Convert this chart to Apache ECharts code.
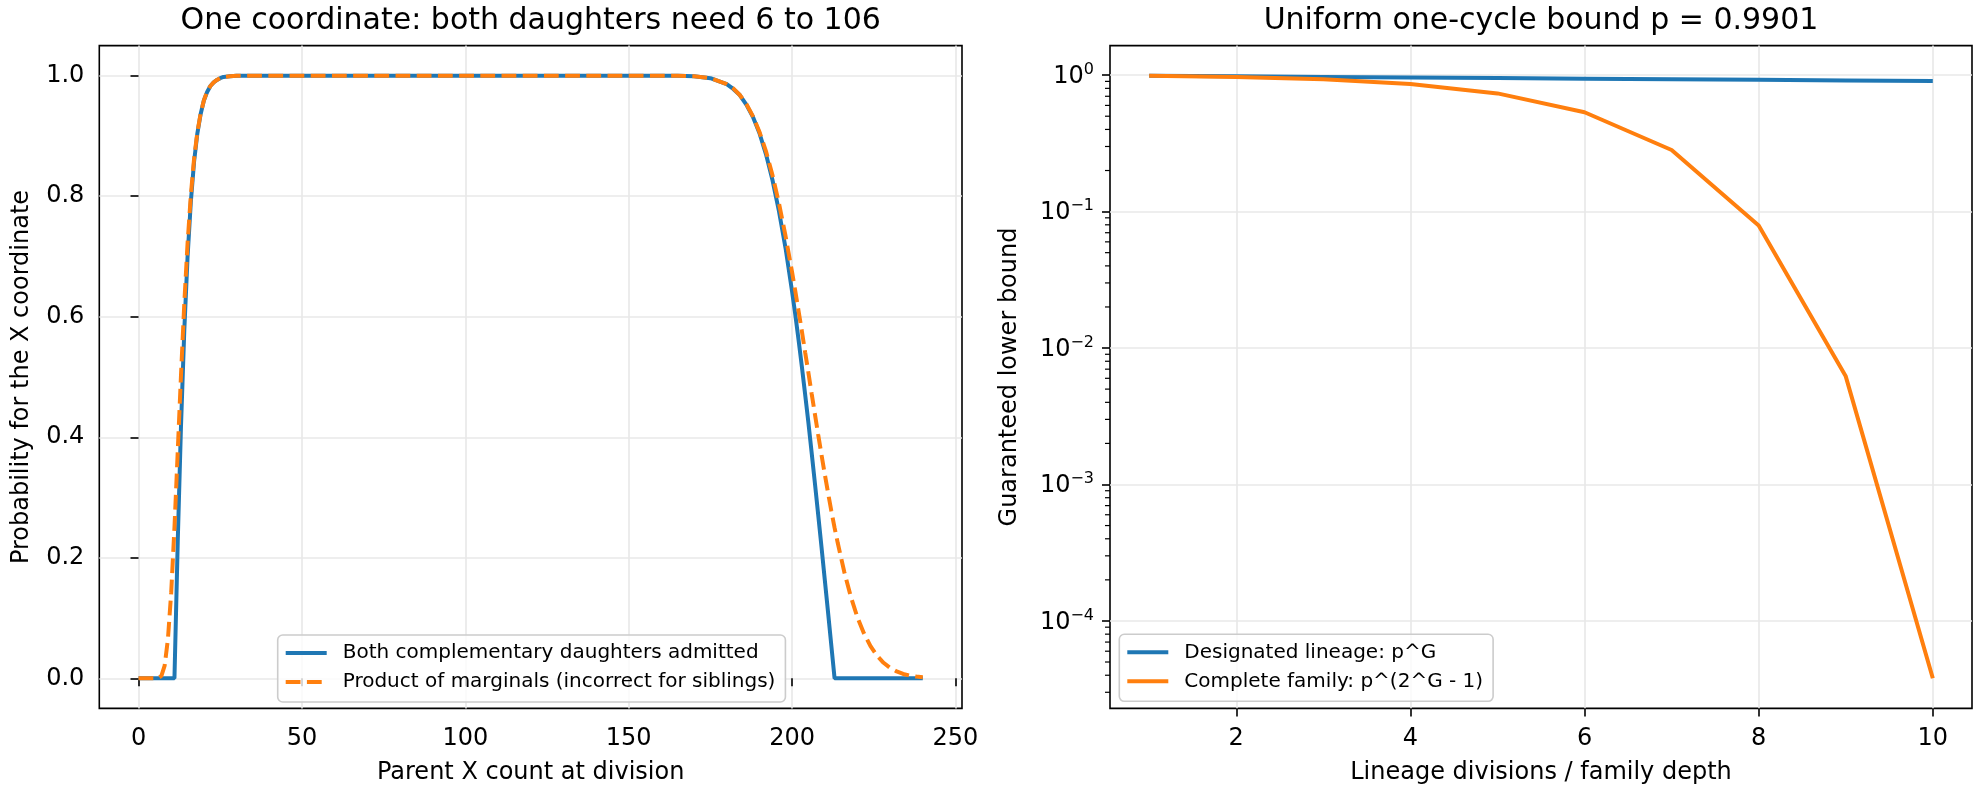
<!DOCTYPE html>
<html>
<head>
<meta charset="utf-8">
<title>Daughter admission and lineage bounds</title>
<script src="https://cdn.jsdelivr.net/npm/echarts@6/dist/echarts.min.js"></script>
<style>
html, body { margin: 0; padding: 0; background: #fff; }
#chart { width: 1980px; height: 792px; }
</style>
</head>
<body>
<div id="chart"></div>
<script>
// left panel: parent X count at division vs probability
var parentCount = [0, 2, 4, 5, 6, 7, 8, 9, 10, 11,
  12, 13, 14, 15, 16, 17, 18, 19, 20, 21, 22, 23, 24, 25, 26, 28, 30, 35, 40,
  60, 80, 100, 120, 140, 160, 165, 170, 175, 180, 182, 184, 186, 188, 190, 192, 194, 196, 198,
  200, 201, 202, 203, 204, 205, 206, 207, 208, 209, 210, 211, 212, 213, 214,
  216, 218, 220, 222, 224, 226, 228, 230, 232, 234, 236, 238, 240];
var bothAdmitted = [0, 0, 0, 0, 0, 0, 0, 0, 0, 0,
  0.226, 0.419, 0.576, 0.698, 0.790, 0.857, 0.904, 0.936, 0.959, 0.973, 0.983, 0.989, 0.993, 0.996, 0.998, 0.999, 1.0, 1.0, 1.0,
  1.0, 1.0, 1.0, 1.0, 1.0, 1.0, 1.0, 0.999, 0.996, 0.986, 0.978, 0.968, 0.952, 0.932, 0.905, 0.870, 0.827, 0.775, 0.714,
  0.642, 0.603, 0.561, 0.517, 0.471, 0.424, 0.374, 0.323, 0.271, 0.218, 0.164, 0.110, 0.055, 0, 0,
  0, 0, 0, 0, 0, 0, 0, 0, 0, 0, 0, 0, 0];
var productOfMarginals = [0, 0, 0, 0, 0.0002, 0.0039, 0.021, 0.065, 0.142, 0.25,
  0.376, 0.503, 0.621, 0.721, 0.801, 0.862, 0.906, 0.937, 0.959, 0.974, 0.983, 0.989, 0.993, 0.996, 0.998, 0.999, 1.0, 1.0, 1.0,
  1.0, 1.0, 1.0, 1.0, 1.0, 1.0, 1.0, 0.999, 0.996, 0.986, 0.979, 0.968, 0.953, 0.933, 0.907, 0.875, 0.835, 0.788, 0.734,
  0.674, 0.642, 0.609, 0.576, 0.541, 0.507, 0.472, 0.438, 0.404, 0.371, 0.339, 0.308, 0.278, 0.25, 0.224,
  0.176, 0.135, 0.101, 0.0745, 0.0534, 0.0375, 0.0257, 0.0172, 0.0113, 0.0072, 0.0045, 0.0028, 0.0017];
var leftXTicks = [0, 50, 100, 150, 200, 250];
var leftYTicks = [0, 0.2, 0.4, 0.6, 0.8, 1.0];

// right panel: lower bounds per generation
var generations = [1, 2, 3, 4, 5, 6, 7, 8, 9, 10];
var designatedLineage = [0.9901, 0.9803, 0.9706, 0.9610, 0.9515, 0.9421, 0.9327, 0.9235, 0.9143, 0.9053];
var completeFamily = [0.9901, 0.9706, 0.9327, 0.8614, 0.7346, 0.5343, 0.2826, 0.0791, 0.0062, 0.000038];
var rightXTicks = [2, 4, 6, 8, 10];
var rightYTicks = [1, 0.1, 0.01, 0.001, 0.0001];
var minorMultipliers = [2, 3, 4, 5, 6, 7, 8, 9];

var BLUE = '#1f77b4';
var ORANGE = '#ff7f0e';
var FONT = 'DejaVu Sans';
var GRIDLINE = '#e8e8e8';

function pairs(xs, ys) {
  var out = [];
  for (var i = 0; i < xs.length; i++) out.push([xs[i], ys[i]]);
  return out;
}
function padRange(lo, hi) {
  var m = (hi - lo) * 0.05;
  return [lo - m, hi + m];
}
function logPadRange(lo, hi) {
  var r = padRange(Math.log10(lo), Math.log10(hi));
  return [Math.pow(10, r[0]), Math.pow(10, r[1])];
}

var leftX = padRange(0, 240);
var leftY = padRange(0, 1);
var rightX = padRange(1, 10);
var rightY = logPadRange(Math.min.apply(null, completeFamily), Math.max.apply(null, designatedLineage));

// minor ticks of the log axis, 2..9 times each decade
var minorTicks = [];
for (var d = -5; d <= 0; d++) {
  for (var j = 0; j < minorMultipliers.length; j++) {
    var v = minorMultipliers[j] * Math.pow(10, d);
    if (v > rightY[0] && v < rightY[1]) minorTicks.push([rightX[0], v]);
  }
}

var tickStyle = { color: '#000', width: 1.6 };
var labelStyle = { fontSize: 24, color: '#000', fontFamily: FONT };
var nameStyle = { fontSize: 24, color: '#000', fontFamily: FONT };

var legendBase = {
  orient: 'vertical',
  itemWidth: 41,
  itemHeight: 14,
  itemGap: 9,
  padding: [8, 10, 10, 6],
  backgroundColor: 'rgba(255,255,255,0.8)',
  borderColor: '#cccccc',
  borderWidth: 1.6,
  borderRadius: 5,
  selectedMode: false,
  itemStyle: { opacity: 0 },
  lineStyle: { width: 4 },
  textStyle: { fontSize: 20, color: '#000', fontFamily: FONT, padding: [0, 0, 0, 11] }
};

var chart = echarts.init(document.getElementById('chart'));
var option = {
  animation: false,
  backgroundColor: '#fff',
  title: [
    { text: 'One coordinate: both daughters need 6 to 106', left: 530.7, top: 6, textAlign: 'center', padding: 0,
      textStyle: { fontSize: 30, fontWeight: 'normal', color: '#000', fontFamily: FONT } },
    { text: 'Uniform one-cycle bound p = 0.9901', left: 1541, top: 6, textAlign: 'center', padding: 0,
      textStyle: { fontSize: 30, fontWeight: 'normal', color: '#000', fontFamily: FONT } }
  ],
  grid: [
    { left: 99.3, top: 45.6, width: 862.7, height: 662.8, show: true, borderColor: '#000', borderWidth: 1.6, containLabel: false },
    { left: 1110, top: 45.6, width: 862, height: 662.8, show: true, borderColor: '#000', borderWidth: 1.6, containLabel: false }
  ],
  legend: [
    Object.assign({}, legendBase, { left: 277.7, top: 635,
      data: ['Both complementary daughters admitted', 'Product of marginals (incorrect for siblings)'] }),
    Object.assign({}, legendBase, { left: 1119.3, top: 634.3,
      data: ['Designated lineage: p^G', 'Complete family: p^(2^G - 1)'] })
  ],
  xAxis: [
    { type: 'value', gridIndex: 0, min: leftX[0], max: leftX[1],
      axisLine: { show: false },
      axisTick: { customValues: leftXTicks, length: 8, lineStyle: tickStyle },
      axisLabel: Object.assign({ customValues: leftXTicks, margin: 18 }, labelStyle),
      splitLine: { show: true, lineStyle: { color: GRIDLINE, width: 1.6 } },
      name: 'Parent X count at division', nameLocation: 'middle', nameGap: 52, nameTextStyle: nameStyle },
    { type: 'value', gridIndex: 1, min: rightX[0], max: rightX[1],
      axisLine: { show: false },
      axisTick: { customValues: rightXTicks, length: 8, lineStyle: tickStyle },
      axisLabel: Object.assign({ customValues: rightXTicks, margin: 18 }, labelStyle),
      splitLine: { show: true, lineStyle: { color: GRIDLINE, width: 1.6 } },
      name: 'Lineage divisions / family depth', nameLocation: 'middle', nameGap: 52, nameTextStyle: nameStyle }
  ],
  yAxis: [
    { type: 'value', gridIndex: 0, min: leftY[0], max: leftY[1],
      axisLine: { show: false },
      axisTick: { customValues: leftYTicks, length: 8, lineStyle: tickStyle },
      axisLabel: Object.assign({ customValues: leftYTicks, margin: 15,
        formatter: function (v) { return v.toFixed(1); } }, labelStyle),
      splitLine: { show: true, lineStyle: { color: GRIDLINE, width: 1.6 } },
      name: 'Probability for the X coordinate', nameLocation: 'middle', nameGap: 66, nameTextStyle: nameStyle },
    { type: 'log', logBase: 10, gridIndex: 1, min: rightY[0], max: rightY[1],
      axisLine: { show: false },
      axisTick: { customValues: rightYTicks, length: 8, lineStyle: tickStyle },
      axisLabel: { customValues: rightYTicks, margin: 16,
        formatter: function (v) {
          var e = Math.round(Math.log10(v));
          return '{b|10}{s|' + (e < 0 ? '\u2212' + (-e) : e) + '}';
        },
        rich: {
          b: { fontSize: 24, color: '#000', fontFamily: FONT, lineHeight: 27, verticalAlign: 'bottom' },
          s: { fontSize: 16, color: '#000', fontFamily: FONT, lineHeight: 16, verticalAlign: 'top' }
        } },
      splitLine: { show: true, lineStyle: { color: GRIDLINE, width: 1.6 } },
      name: 'Guaranteed lower bound', nameLocation: 'middle', nameGap: 88, nameTextStyle: nameStyle }
  ],
  series: [
    { type: 'line', name: 'Both complementary daughters admitted', xAxisIndex: 0, yAxisIndex: 0,
      data: pairs(parentCount, bothAdmitted), symbol: 'none', z: 3,
      lineStyle: { color: BLUE, width: 4 }, itemStyle: { color: BLUE } },
    { type: 'line', name: 'Product of marginals (incorrect for siblings)', xAxisIndex: 0, yAxisIndex: 0,
      data: pairs(parentCount, productOfMarginals), symbol: 'none', z: 4,
      lineStyle: { color: ORANGE, width: 4, type: [14.8, 6.4] }, itemStyle: { color: ORANGE } },
    { type: 'line', name: 'Designated lineage: p^G', xAxisIndex: 1, yAxisIndex: 1,
      data: pairs(generations, designatedLineage), symbol: 'none', z: 3,
      lineStyle: { color: BLUE, width: 4 }, itemStyle: { color: BLUE } },
    { type: 'line', name: 'Complete family: p^(2^G - 1)', xAxisIndex: 1, yAxisIndex: 1,
      data: pairs(generations, completeFamily), symbol: 'none', z: 4,
      lineStyle: { color: ORANGE, width: 4 }, itemStyle: { color: ORANGE } },
    { type: 'custom', name: 'minor ticks', xAxisIndex: 1, yAxisIndex: 1, data: minorTicks,
      silent: true, clip: false, z: 5,
      renderItem: function (params, api) {
        var p = api.coord([api.value(0), api.value(1)]);
        return { type: 'line', shape: { x1: p[0] - 5, y1: p[1], x2: p[0], y2: p[1] },
          style: { stroke: '#000', lineWidth: 1.2 } };
      } }
  ]
};
chart.setOption(option);
</script>
</body>
</html>
